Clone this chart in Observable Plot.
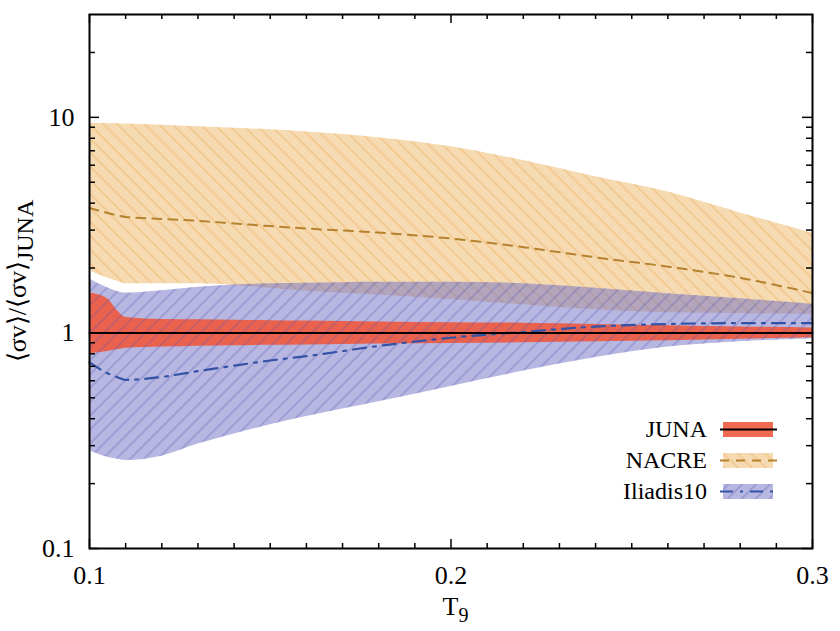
<!DOCTYPE html>
<html>
<head>
<meta charset="utf-8">
<script src="https://cdn.jsdelivr.net/npm/d3@7"></script>
<script src="https://cdn.jsdelivr.net/npm/@observablehq/plot@0.6"></script>
<style>
  html, body { margin: 0; padding: 0; background: #fff; }
  #chart { width: 840px; height: 631px; }
  svg text { font-family: "Liberation Serif", Tinos, "Times New Roman", Times, serif; }
</style>
</head>
<body>
<div id="chart"></div>
<script>
// ---- data ----
const T9 = [0.1, 0.105, 0.1075, 0.11, 0.12, 0.13, 0.14, 0.15, 0.16, 0.18, 0.2, 0.22, 0.24, 0.26, 0.28, 0.3];

const junaLow  = [0.80, 0.82, 0.835, 0.85, 0.86, 0.868, 0.872, 0.876, 0.88, 0.888, 0.894, 0.90, 0.91, 0.92, 0.935, 0.95];
const junaHigh = [1.53, 1.44, 1.28, 1.18, 1.155, 1.15, 1.145, 1.14, 1.135, 1.125, 1.115, 1.11, 1.095, 1.08, 1.065, 1.055];
const junaMid  = [1, 1, 1, 1, 1, 1, 1, 1, 1, 1, 1, 1, 1, 1, 1, 1];

const nacreLow  = [1.94, 1.80, 1.74, 1.69, 1.69, 1.69, 1.66, 1.61, 1.56, 1.50, 1.43, 1.35, 1.28, 1.24, 1.23, 1.22];
const nacreMid  = [3.80, 3.60, 3.52, 3.45, 3.38, 3.31, 3.22, 3.13, 3.05, 2.92, 2.74, 2.50, 2.24, 2.03, 1.80, 1.53];
const nacreHigh = [9.40, 9.37, 9.35, 9.32, 9.20, 9.05, 8.90, 8.75, 8.55, 8.05, 7.30, 6.30, 5.30, 4.50, 3.60, 2.90];

const iliadisLow  = [0.284, 0.265, 0.26, 0.256, 0.268, 0.305, 0.34, 0.375, 0.41, 0.48, 0.565, 0.665, 0.77, 0.86, 0.91, 0.94];
const iliadisMid  = [0.73, 0.65, 0.625, 0.605, 0.625, 0.665, 0.705, 0.745, 0.78, 0.87, 0.95, 1.01, 1.07, 1.10, 1.11, 1.11];
const iliadisHigh = [1.78, 1.62, 1.56, 1.53, 1.57, 1.63, 1.67, 1.69, 1.70, 1.72, 1.72, 1.69, 1.61, 1.52, 1.44, 1.36];

const seriesNames = ["JUNA", "NACRE", "Iliadis10"];

const xMajorTicks = [0.1, 0.2, 0.3];
const xTickLabels = ["0.1", "0.2", "0.3"];
const xMinorTicks = [0.11, 0.12, 0.13, 0.14, 0.15, 0.16, 0.17, 0.18, 0.19, 0.21, 0.22, 0.23, 0.24, 0.25, 0.26, 0.27, 0.28, 0.29];
const yMajorTicks = [0.1, 1, 10];
const yTickLabels = ["0.1", "1", "10"];
const yMinorTicks = [0.2, 0.3, 0.4, 0.5, 0.6, 0.7, 0.8, 0.9, 2, 3, 4, 5, 6, 7, 8, 9, 20];

// ---- layout / style ----
const W = 840, H = 631;
const mL = 89, mR = 28, mT = 14, mB = 83;
const innerW = W - mL - mR, innerH = H - mT - mB;
const FONT = "Liberation Serif";

const C = {
  nacreFill: "#f6dab2", nacreHatch: "#eeb468", nacreLine: "#b5822e",
  iliFill: "rgb(112,112,196)", iliHatch: "#5050b4", iliLine: "#3452a6",
  juna: "#ee5a40"
};

const rows = T9.map((t, i) => ({
  t,
  jl: junaLow[i], jh: junaHigh[i], jm: junaMid[i],
  nl: nacreLow[i], nm: nacreMid[i], nh: nacreHigh[i],
  il: iliadisLow[i], im: iliadisMid[i], ih: iliadisHigh[i]
}));

const curve = "monotone-x";
const tickStyle = {stroke: "black", strokeWidth: 1.5};

const chart = Plot.plot({
  width: W, height: H,
  marginLeft: mL, marginRight: mR, marginTop: mT, marginBottom: mB,
  style: {fontFamily: FONT, fontSize: "25px", background: "white", color: "black"},
  x: {domain: [0.1, 0.3], label: null},
  y: {type: "log", domain: [0.1, 30], label: null},
  marks: [
    Plot.areaY(rows, {x: "t", y1: "nl", y2: "nh", fill: C.nacreFill, curve}),
    Plot.areaY(rows, {x: "t", y1: "nl", y2: "nh", fill: "url(#hatchNacre)", curve}),
    Plot.areaY(rows, {x: "t", y1: "il", y2: "ih", fill: C.iliFill, fillOpacity: 0.5, curve}),
    Plot.areaY(rows, {x: "t", y1: "jl", y2: "jh", fill: C.juna, fillOpacity: 0.92, curve}),
    Plot.areaY(rows, {x: "t", y1: "il", y2: "ih", fill: "url(#hatchIli)", curve}),
    Plot.line(rows, {x: "t", y: "nm", stroke: C.nacreLine, strokeWidth: 2, strokeDasharray: "9,7", curve}),
    Plot.line(rows, {x: "t", y: "im", stroke: C.iliLine, strokeWidth: 2.2, strokeDasharray: "13,7,3,7", curve}),
    Plot.line(rows, {x: "t", y: "jm", stroke: "black", strokeWidth: 2}),
    Plot.tickX(xMajorTicks, {x: d => d, insetTop: innerH - 9, ...tickStyle}),
    Plot.tickX(xMinorTicks, {x: d => d, insetTop: innerH - 5, ...tickStyle}),
    Plot.tickX(xMajorTicks, {x: d => d, insetBottom: innerH - 9, ...tickStyle}),
    Plot.tickX(xMinorTicks, {x: d => d, insetBottom: innerH - 5, ...tickStyle}),
    Plot.tickY(yMajorTicks, {y: d => d, insetRight: innerW - 10, ...tickStyle}),
    Plot.tickY(yMinorTicks, {y: d => d, insetRight: innerW - 6, ...tickStyle}),
    Plot.tickY(yMajorTicks, {y: d => d, insetLeft: innerW - 10, ...tickStyle}),
    Plot.tickY(yMinorTicks, {y: d => d, insetLeft: innerW - 6, ...tickStyle}),
    Plot.frame({stroke: "black", strokeWidth: 2}),
    Plot.axisX(xMajorTicks, {tickSize: 0, tickPadding: 17, tickFormat: d => xTickLabels[xMajorTicks.indexOf(d)], fontSize: 26, label: null}),
    Plot.axisY(yMajorTicks, {tickSize: 0, tickPadding: 15, tickFormat: d => yTickLabels[yMajorTicks.indexOf(d)], fontSize: 26, label: null})
  ]
});

document.getElementById("chart").append(chart);

const svg = d3.select(chart);
const xs = chart.scale("x"), ys = chart.scale("y");

const defs = svg.insert("defs", ":first-child");
function hatch(id, angle, color, opacity, spacing) {
  const p = defs.append("pattern").attr("id", id)
    .attr("patternUnits", "userSpaceOnUse")
    .attr("width", spacing).attr("height", spacing)
    .attr("patternTransform", `rotate(${angle})`);
  p.append("line").attr("x1", spacing / 2).attr("y1", 0).attr("x2", spacing / 2).attr("y2", spacing)
    .attr("stroke", color).attr("stroke-width", 0.9).attr("stroke-opacity", opacity);
}
hatch("hatchNacre", -45, C.nacreHatch, 0.9, 9.8);
hatch("hatchIli", 45, C.iliHatch, 0.55, 9.8);

const xMid = (xs.apply(0.1) + xs.apply(0.3)) / 2;
const xt = svg.append("text").attr("x", xMid + 5).attr("y", 615)
  .attr("text-anchor", "middle").attr("font-size", 26).attr("fill", "black");
xt.append("tspan").text("T");
xt.append("tspan").attr("dy", 7).attr("font-size", 20).text("9");

const yMid = (ys.apply(0.1) + ys.apply(30)) / 2;
const yt = svg.append("text").attr("transform", `translate(26,${yMid}) rotate(-90)`)
  .attr("text-anchor", "middle").attr("font-size", 26).attr("fill", "black");
yt.append("tspan").text("⟨σv⟩/⟨σv⟩");
yt.append("tspan").attr("dy", 7).attr("font-size", 24).text("JUNA");

const legendStyles = [
  {fill: C.juna, fillOpacity: 0.9, hatch: null, stroke: "black", dash: null, w: 2},
  {fill: C.nacreFill, fillOpacity: 1, hatch: "url(#hatchNacre)", stroke: C.nacreLine, dash: "9,7", w: 2},
  {fill: C.iliFill, fillOpacity: 0.5, hatch: "url(#hatchIli)", stroke: C.iliLine, dash: "13,7,3,7", w: 2.2}
];
const lg = svg.append("g").attr("font-size", 24);
const textRight = 707, swX = 723, swW = 50, swH = 15, base0 = 437, step = 31;
seriesNames.forEach((name, i) => {
  const s = legendStyles[i];
  const by = base0 + i * step;
  lg.append("text").attr("x", textRight).attr("y", by).attr("text-anchor", "end").attr("fill", "black").text(name);
  lg.append("rect").attr("x", swX).attr("y", by - swH).attr("width", swW).attr("height", swH)
    .attr("fill", s.fill).attr("fill-opacity", s.fillOpacity);
  if (s.hatch) lg.append("rect").attr("x", swX).attr("y", by - swH).attr("width", swW).attr("height", swH).attr("fill", s.hatch);
  lg.append("line").attr("x1", swX - 3).attr("x2", swX + swW + 4).attr("y1", by - swH / 2).attr("y2", by - swH / 2)
    .attr("stroke", s.stroke).attr("stroke-width", s.w).attr("stroke-dasharray", s.dash);
});
</script>
</body>
</html>
